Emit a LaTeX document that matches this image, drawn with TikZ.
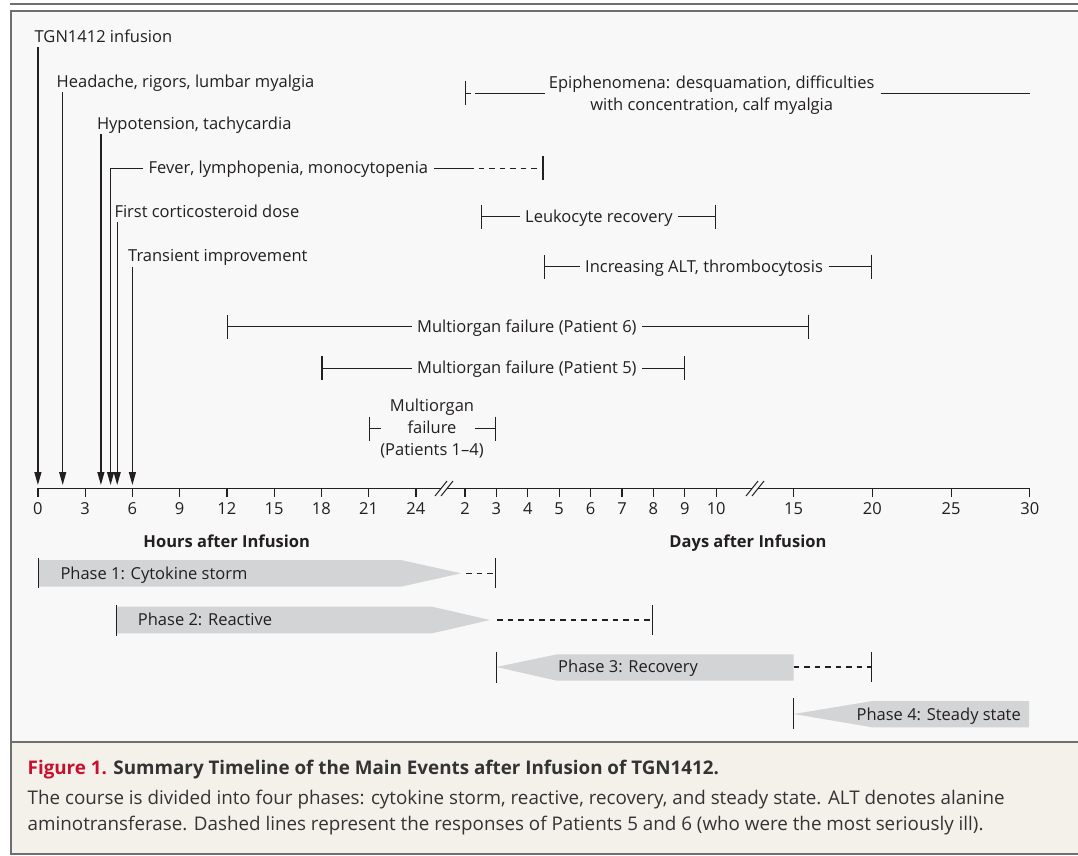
\documentclass[tikz,border=0pt]{standalone}
\usepackage{fontspec}
\setmainfont{Open Sans}
\usetikzlibrary{arrows.meta,calc}
\definecolor{ink}{HTML}{231F20}
\definecolor{framec}{HTML}{6F6F6F}
\definecolor{panel}{HTML}{F8F8F8}
\definecolor{capbg}{HTML}{F4F1EB}
\definecolor{phasegray}{HTML}{D3D4D6}
\definecolor{figred}{HTML}{C8102E}
\definecolor{captext}{HTML}{333333}
\tikzset{
  lbl/.style={inner sep=0pt, text=ink},
  brk/.style={inner xsep=5.5pt, inner ysep=0pt, text=ink},
  ln/.style={draw=ink, line width=1.2pt},
  arr/.style={ln, -{Triangle[length=13pt,width=7pt]}},
  lbar/.style={ln, {Bar[width=24pt]}-},
  rbar/.style={ln, -{Bar[width=24pt]}},
  dsh/.style={ln, dash pattern=on 5.5pt off 5pt},
  dshbar/.style={dsh, -{Bar[width=30pt]}},
  phasefill/.style={fill=phasegray, draw=none},
  boldlbl/.style={inner sep=0pt, text=ink, font=\fontsize{16.5}{22}\selectfont\bfseries},
  captxt/.style={inner sep=0pt, text=captext, anchor=base west, font=\fontsize{18.8}{24}\selectfont},
}
\begin{document}
\begin{tikzpicture}[x=1pt,y=-1pt,font=\fontsize{16.5}{22}\selectfont]
\useasboundingbox (0,0) rectangle (1078,855);
% frame
\fill[white] (0,0) rectangle (1078,855);
\fill[panel] (11,11) rectangle (1078,742);
\fill[capbg] (11,742) rectangle (1078,854);
\draw[framec, line width=2pt] (10,3.5) -- (1078,3.5);
\draw[framec, line width=2.5pt] (9.75,11) -- (1078,11);
\draw[framec, line width=2.5pt] (11,11) -- (11,855);
\draw[framec, line width=2pt] (11,742) -- (1078,742);
\draw[framec, line width=2pt] (11,854) -- (1078,854);

% axis
\coordinate (axA) at (37.9,488.3);
\coordinate (axB) at (441,488.3);
\coordinate (axC) at (447,488.3);
\coordinate (axD) at (752,488.3);
\coordinate (axE) at (758,488.3);
\coordinate (axF) at (1029.85,488.3);
\draw[ln] (axA) -- (axB);
\draw[ln] (axC) -- (axD);
\draw[ln] (axE) -- (axF);
\draw[ln, line width=1pt] (435,496) -- (447,481);
\draw[ln, line width=1pt] (441,496) -- (453,481);
\draw[ln, line width=1pt] (746,496) -- (758,481);
\draw[ln, line width=1pt] (752,496) -- (764,481);
\foreach \x/\t [count=\i] in {37.9/0,85.15/3,132.4/6,179.65/9,226.9/12,274.15/15,321.4/18,368.65/21,415.9/24,465/2,496.4/3,527.8/4,559.2/5,590.6/6,622/7,653.4/8,684.8/9,716.2/10,793.6/15,872.35/20,951.1/25,1029.85/30}{
  \draw[ln] (\x,488.3) -- (\x,496.7);
  \node[lbl, anchor=base] (tk\i) at (\x,514.2) {\t};
}

% arrows to the axis
\coordinate (a1) at (37.9,485);
\coordinate (a2) at (62.7,485);
\coordinate (a3) at (100.9,485);
\coordinate (a4) at (110.6,485);
\coordinate (a5) at (117.2,485);
\coordinate (a6) at (132.4,485);
\node[lbl, anchor=base west] (tgn) at (34.5,42.3) {TGN1412 infusion};
\node[lbl, anchor=base west] (head) at (56.5,87.3) {Headache, rigors, lumbar myalgia};
\node[lbl, anchor=base west] (hypo) at (96.8,129.3) {Hypotension, tachycardia};
\node[lbl, anchor=base west] (cort) at (114.3,217.3) {First corticosteroid dose};
\node[lbl, anchor=base west] (trans) at (128,261.7) {Transient improvement};
\draw[arr] ($(tgn.base -| a1)+(0,4.5)$) -- (a1);
\draw[arr] ($(head.base -| a2)+(0,4.5)$) -- (a2);
\draw[arr] ($(hypo.base -| a3)+(0,5)$) -- (a3);
\draw[arr] ($(cort.base -| a5)+(0,5)$) -- (a5);
\draw[arr] ($(trans.base -| a6)+(0,5)$) -- (a6);

% fever
\coordinate (fevC) at (110.6,168.3);
\coordinate (fevD) at (468,168.3);
\coordinate (fevR) at (543.5,168.3);
\node[brk, anchor=base west] (fever) at (143,173.8) {Fever, lymphopenia, monocytopenia};
\draw[arr] (fever.west |- fevC) -- (fevC) -- (a4);
\draw[ln] (fever.east |- fevC) -- (fevD);
\draw[dsh, -{Bar[width=24pt]}] (fevD) -- (fevR);

% epiphenomena
\node[lbl, anchor=base] (epiA) at (711.7,88.3) {Epiphenomena: desquamation, difficulties};
\node[lbl, anchor=base] (epiB) at (711.7,110.3) {with concentration, calf myalgia};
\coordinate (epiL) at (465,93.3);
\coordinate (epiM) at (475,93.3);
\coordinate (epiR) at (1029.85,93.3);
\draw[dsh, {Bar[width=24pt]}-] (epiL) -- (epiM);
\draw[ln] (epiM) -- ($(epiA.west |- epiL)+(-4,0)$);
\draw[ln] ($(epiA.east |- epiL)+(6,0)$) -- (epiR);

% leukocyte recovery
\coordinate (leuL) at (480.7,216.7);
\coordinate (leuR) at (716.2,216.7);
\node[brk, anchor=base west] (leu) at (519.5,222.2) {Leukocyte recovery};
\draw[lbar] (leuL) -- (leu.west |- leuL);
\draw[rbar] (leu.east |- leuL) -- (leuR);

% ALT
\coordinate (altL) at (543.5,266.7);
\coordinate (altR) at (872.35,266.7);
\node[brk, anchor=base west] (alt) at (579.5,272.2) {Increasing ALT, thrombocytosis};
\draw[lbar] (altL) -- (alt.west |- altL);
\draw[rbar] (alt.east |- altL) -- (altR);

% multiorgan failure patient 6
\coordinate (p6L) at (226.9,326.7);
\coordinate (p6R) at (809.35,326.7);
\node[brk, anchor=base west] (p6) at (411.5,332.2) {Multiorgan failure (Patient 6)};
\draw[lbar] (p6L) -- (p6.west |- p6L);
\draw[rbar] (p6.east |- p6L) -- (p6R);

% multiorgan failure patient 5
\coordinate (p5L) at (321.4,368.3);
\coordinate (p5R) at (684.8,368.3);
\node[brk, anchor=base west] (p5) at (411.5,373.8) {Multiorgan failure (Patient 5)};
\draw[lbar] (p5L) -- (p5.west |- p5L);
\draw[rbar] (p5.east |- p5L) -- (p5R);

% multiorgan failure patients 1-4
\node[lbl, anchor=base] (mofA) at (432,411.5) {Multiorgan};
\node[lbl, anchor=base] (mofB) at (432,433.5) {failure};
\node[lbl, anchor=base] (mofC) at (432,455.5) {(Patients 1–4)};
\coordinate (mofL) at (368.65,428.5);
\coordinate (mofLe) at (380.6,428.5);
\coordinate (mofRs) at (474.6,428.5);
\coordinate (mofR) at (496.4,428.5);
\draw[lbar] (mofL) -- (mofLe);
\draw[rbar] (mofRs) -- (mofR);

% axis titles
\node[boldlbl, anchor=base] (hrs) at (226.7,547) {Hours after Infusion};
\node[boldlbl, anchor=base] (dys) at (747.9,547) {Days after Infusion};

% phases
\fill[phasefill] (38.5,560) -- (401,560) -- (461,573.3) -- (401,586.7) -- (38.5,586.7) -- cycle;
\draw[ln] (38.5,558.3) -- (38.5,588.3);
\node[lbl, anchor=base west] (ph1) at (60.3,579.3) {Phase 1: Cytokine storm};
\coordinate (ph1a) at (466,573.3);
\coordinate (ph1b) at (496.4,573.3);
\draw[dshbar] (ph1a) -- (ph1b);

\fill[phasefill] (116.65,606.7) -- (432,606.7) -- (490,620) -- (432,633.3) -- (116.65,633.3) -- cycle;
\draw[ln] (116.65,605) -- (116.65,635.7);
\node[lbl, anchor=base west] (ph2) at (137.7,625.7) {Phase 2: Reactive};
\coordinate (ph2a) at (497,620);
\coordinate (ph2b) at (653.4,620);
\draw[dshbar] (ph2a) -- (ph2b);

\fill[phasefill] (496.4,667) -- (557,654.3) -- (793.6,654.3) -- (793.6,680.7) -- (557,680.7) -- cycle;
\draw[ln] (496.4,651.7) -- (496.4,682.7);
\node[lbl, anchor=base west] (ph3) at (558,672.7) {Phase 3: Recovery};
\coordinate (ph3a) at (793.6,667);
\coordinate (ph3b) at (872.35,667);
\draw[dshbar] (ph3a) -- (ph3b);

\fill[phasefill] (793.6,714) -- (872.35,701) -- (1029,701) -- (1029,727.3) -- (872.35,727.3) -- cycle;
\draw[ln] (793.6,698.3) -- (793.6,729.3);
\node[lbl, anchor=base east] (ph4) at (1021,720) {Phase 4: Steady state};

% caption
\node[captxt] (capT) at (27.5,774) {\bfseries\textcolor{figred}{Figure 1.} Summary Timeline of the Main Events after Infusion of TGN1412.};
\node[captxt] (capA) at (27.5,804.5) {The course is divided into four phases: cytokine storm, reactive, recovery, and steady state. ALT denotes alanine};
\node[captxt] (capB) at (27.5,830.8) {aminotransferase. Dashed lines represent the responses of Patients 5 and 6 (who were the most seriously ill).};
\end{tikzpicture}
\end{document}
